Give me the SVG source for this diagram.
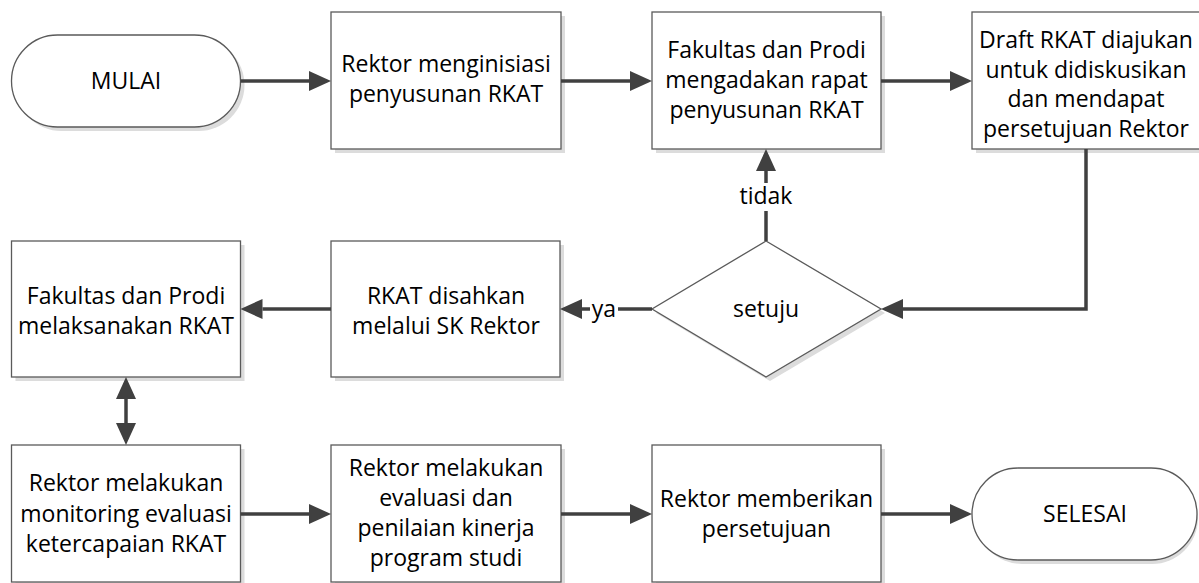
<svg xmlns="http://www.w3.org/2000/svg" width="1199" height="583" viewBox="0 0 1199 583">
<style>
.bg{fill:#ffffff}
.sh{fill:#dcdcdc;stroke:none}
.box{fill:#ffffff;stroke:#5a5a5a;stroke-width:1.3}
.t{font-family:"Open Sans","Noto Sans","Liberation Sans",sans-serif;font-size:23px;fill:#000000;text-anchor:middle}
.c{fill:none;stroke:#404040;stroke-width:3.5}
.lbl{fill:#ffffff;stroke:none}
</style>
<defs>
<marker id="ah" markerUnits="userSpaceOnUse" markerWidth="22" markerHeight="20" refX="0" refY="10" orient="auto-start-reverse">
<path d="M0,0 L22,10 L0,20 z" fill="#404040"/>
</marker>
</defs>
<rect class="bg" x="0" y="0" width="1199" height="583"/>

<g id="mulai">
<rect class="sh" x="15.5" y="39" width="229" height="92" rx="46"/>
<rect class="box" x="11.5" y="35" width="229" height="92" rx="46"/>
<text class="t" x="126" y="89">MULAI</text>
</g>
<g id="n-inisiasi">
<rect class="sh" x="335" y="16" width="230" height="137"/>
<rect class="box" x="331" y="12" width="230" height="137"/>
<text class="t" x="446" y="72">Rektor menginisiasi</text>
<text class="t" x="446" y="102">penyusunan RKAT</text>
</g>
<g id="n-rapat">
<rect class="sh" x="656" y="16" width="229" height="137"/>
<rect class="box" x="652" y="12" width="229" height="137"/>
<text class="t" x="766.5" y="58">Fakultas dan Prodi</text>
<text class="t" x="766.5" y="88">mengadakan rapat</text>
<text class="t" x="766.5" y="117.5">penyusunan RKAT</text>
</g>
<g id="n-draft">
<rect class="sh" x="976" y="16" width="229" height="137"/>
<rect class="box" x="972" y="12" width="229" height="137"/>
<text class="t" x="1086" y="48">Draft RKAT diajukan</text>
<text class="t" x="1086" y="77.5">untuk didiskusikan</text>
<text class="t" x="1086" y="107">dan mendapat</text>
<text class="t" x="1086" y="136.5">persetujuan Rektor</text>
</g>
<g id="n-setuju">
<polygon class="sh" points="770,245 885,313 770,381 656,313"/>
<polygon class="box" points="766,241 881,309 766,377 652,309"/>
<text class="t" x="766" y="317">setuju</text>
</g>
<g id="n-sah">
<rect class="sh" x="335" y="245" width="229" height="136"/>
<rect class="box" x="331" y="241" width="229" height="136"/>
<text class="t" x="446" y="304">RKAT disahkan</text>
<text class="t" x="446" y="334">melalui SK Rektor</text>
</g>
<g id="n-laksana">
<rect class="sh" x="15.5" y="245" width="229" height="136"/>
<rect class="box" x="11.5" y="241" width="229" height="136"/>
<text class="t" x="126" y="304">Fakultas dan Prodi</text>
<text class="t" x="126" y="334">melaksanakan RKAT</text>
</g>
<g id="n-monitoring">
<rect class="sh" x="15.5" y="449" width="229" height="137"/>
<rect class="box" x="11.5" y="445" width="229" height="137"/>
<text class="t" x="126" y="491">Rektor melakukan</text>
<text class="t" x="126" y="521.5">monitoring evaluasi</text>
<text class="t" x="126" y="552">ketercapaian RKAT</text>
</g>
<g id="n-evaluasi">
<rect class="sh" x="335" y="449" width="230" height="137"/>
<rect class="box" x="331" y="445" width="230" height="137"/>
<text class="t" x="446" y="476">Rektor melakukan</text>
<text class="t" x="446" y="506">evaluasi dan</text>
<text class="t" x="446" y="536">penilaian kinerja</text>
<text class="t" x="446" y="566">program studi</text>
</g>
<g id="n-persetujuan">
<rect class="sh" x="656" y="449" width="229" height="137"/>
<rect class="box" x="652" y="445" width="229" height="137"/>
<text class="t" x="766.5" y="507">Rektor memberikan</text>
<text class="t" x="766.5" y="537">persetujuan</text>
</g>
<g id="selesai">
<rect class="sh" x="976" y="472" width="222" height="92" rx="46"/>
<rect class="box" x="972" y="468" width="225" height="92" rx="46"/>
<text class="t" x="1085" y="522">SELESAI</text>
</g>

<g id="connectors">
<path class="c" d="M240.5,81 H309" marker-end="url(#ah)"/>
<path class="c" d="M561,81 H630" marker-end="url(#ah)"/>
<path class="c" d="M881,81 H950" marker-end="url(#ah)"/>
<path class="c" d="M1086,149 V309 H903" marker-end="url(#ah)"/>
<path class="c" d="M766,241 V171" marker-end="url(#ah)"/>
<path class="c" d="M652,309 H582" marker-end="url(#ah)"/>
<path class="c" d="M331,309 H262.5" marker-end="url(#ah)"/>
<path class="c" d="M126,399 V423" marker-start="url(#ah)" marker-end="url(#ah)"/>
<path class="c" d="M240.5,514 H309" marker-end="url(#ah)"/>
<path class="c" d="M561,514 H630" marker-end="url(#ah)"/>
<path class="c" d="M881,514 H950" marker-end="url(#ah)"/>
<rect class="lbl" x="736" y="183" width="60" height="28"/>
<text class="t" x="766" y="204">tidak</text>
<rect class="lbl" x="590" y="296" width="28" height="26"/>
<text class="t" x="604" y="317">ya</text>
</g>
</svg>
